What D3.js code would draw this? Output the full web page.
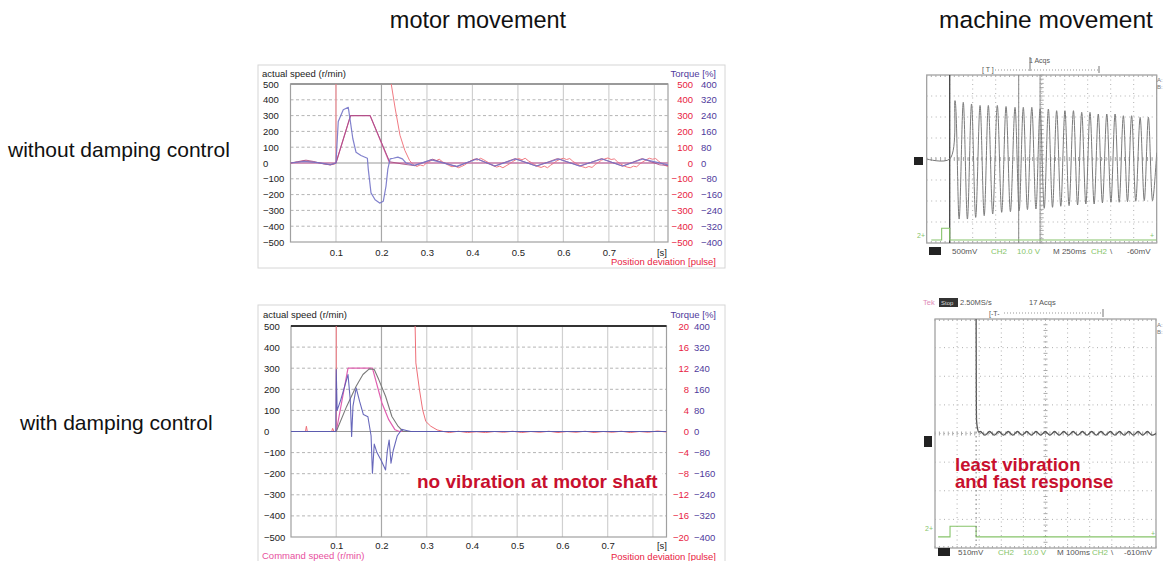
<!DOCTYPE html>
<html><head><meta charset="utf-8">
<script src="https://cdn.jsdelivr.net/npm/d3@7"></script>
<style>
body{margin:0;background:#fff}
svg{display:block;font-family:"Liberation Sans",Arial,Helvetica,sans-serif}
</style></head>
<body><svg id="c" width="1167" height="561"></svg>
<script>
// ---------------- DATA ----------------
const titles = ["motor movement", "machine movement"];
const rowLabels = ["without damping control", "with damping control"];
const speedTicks = [500,400,300,200,100,0,-100,-200,-300,-400,-500];
const torqueTicks = [400,320,240,160,80,0,-80,-160,-240,-320,-400];
const devTicksTop = [500,400,300,200,100,0,-100,-200,-300,-400,-500];
const devTicksBot = [20,16,12,8,4,0,-4,-8,-12,-16,-20];
const timeTicks = [0.1,0.2,0.3,0.4,0.5,0.6,0.7];
const timeGrid = [0.1,0.2,0.3,0.4,0.5,0.6,0.7,0.8];
const timeDomain = [0, 0.83];

// top chart (without damping) : [time s, value]
const cmdTop = [[0,0],[0.1,0],[0.132,300],[0.175,300],[0.218,0],[0.83,0]];
const actTop = [[0,0],[0.015,8],[0.034,18],[0.05,10],[0.07,-4],[0.087,-12],[0.1,0],[0.132,300],[0.175,300],[0.218,8],[0.245,-6],[0.273,-17],[0.312,24],[0.366,-24],[0.409,28],[0.448,-20],[0.494,28],[0.541,-20],[0.587,28],[0.637,-20],[0.684,28],[0.73,-20],[0.773,28],[0.812,-12],[0.83,-16]];
const torqueTop = [[0,0],[0.03,8],[0.06,2],[0.088,-8],[0.1,0],[0.105,210],[0.116,270],[0.127,282],[0.13,236],[0.137,124],[0.144,55],[0.155,38],[0.169,24],[0.171,-31],[0.177,-151],[0.186,-186],[0.196,-203],[0.204,-194],[0.21,-117],[0.214,-31],[0.219,21],[0.226,24],[0.236,30],[0.246,21],[0.254,0],[0.272,-12],[0.31,16],[0.365,-17],[0.41,20],[0.45,-15],[0.495,20],[0.54,-15],[0.59,20],[0.635,-15],[0.685,20],[0.73,-15],[0.775,20],[0.83,-10]];
const devTop = [[0,0],[0.015,6],[0.03,14],[0.045,8],[0.06,2],[0.075,-6],[0.088,-12],[0.098,-6],[0.1,0],[0.1,700],[0.2215,700],[0.2215,500],[0.23,348],[0.2407,176],[0.2514,80],[0.262,15],[0.27,-10],[0.278,-22],[0.285,-12],[0.292,-18],[0.3,2],[0.307,12],[0.314,20],[0.32,14],[0.327,24],[0.334,8],[0.341,-4],[0.348,-15],[0.355,-24],[0.362,-18],[0.369,-30],[0.376,-22],[0.383,-12],[0.39,2],[0.397,14],[0.404,24],[0.411,18],[0.418,30],[0.425,20],[0.432,8],[0.439,-4],[0.446,-16],[0.453,-26],[0.46,-20],[0.467,-30],[0.474,-18],[0.481,-6],[0.488,8],[0.495,20],[0.502,28],[0.509,20],[0.516,30],[0.523,14],[0.53,2],[0.537,-10],[0.544,-22],[0.551,-28],[0.558,-20],[0.565,-30],[0.572,-14],[0.579,0],[0.586,14],[0.593,24],[0.6,30],[0.607,22],[0.614,28],[0.621,10],[0.628,-2],[0.635,-14],[0.642,-24],[0.649,-30],[0.656,-22],[0.663,-28],[0.67,-10],[0.677,4],[0.684,18],[0.691,26],[0.698,32],[0.705,22],[0.712,26],[0.719,8],[0.726,-6],[0.733,-18],[0.74,-26],[0.747,-30],[0.754,-20],[0.761,-24],[0.768,-6],[0.775,8],[0.782,20],[0.789,30],[0.796,24],[0.803,28],[0.81,10],[0.817,-4],[0.824,-16],[0.83,-22]];

// bottom chart (with damping)
const cmdBot = [[0,0],[0.1,0],[0.126,300],[0.18,300],[0.201,135],[0.216,56],[0.23,8],[0.24,0],[0.83,0]];
const actBot = [[0,0],[0.1,0],[0.123,119],[0.144,214],[0.159,270],[0.173,297],[0.184,294],[0.194,246],[0.209,167],[0.223,71],[0.237,24],[0.248,0],[0.83,0]];
const torqueBot = [[0,0],[0.099,0],[0.1,235],[0.102,80],[0.11,120],[0.126,216],[0.131,120],[0.134,-19],[0.137,96],[0.144,165],[0.152,112],[0.16,64],[0.17,56],[0.177,-16],[0.18,-158],[0.184,-48],[0.19,-80],[0.2,-112],[0.209,-146],[0.213,-72],[0.217,-32],[0.221,-120],[0.226,-72],[0.235,-16],[0.245,8],[0.255,4],[0.265,0],[0.83,0]];
const devBot = [[0,0],[0.032,0],[0.034,1],[0.036,0],[0.09,0],[0.092,0.6],[0.095,0],[0.1,0],[0.1,30],[0.272,30],[0.276,13],[0.284,7.9],[0.291,4.1],[0.298,1.9],[0.309,1],[0.323,0.3],[0.337,0],[0.35,-0.2],[0.37,0.05],[0.39,-0.2],[0.41,-0.05],[0.43,-0.2],[0.45,0],[0.47,-0.15],[0.49,0.05],[0.51,-0.2],[0.53,0],[0.55,-0.15],[0.57,0.05],[0.59,-0.2],[0.61,0],[0.63,-0.15],[0.65,0.05],[0.67,-0.2],[0.69,0],[0.71,-0.15],[0.73,0.05],[0.75,-0.2],[0.77,0],[0.79,-0.15],[0.81,0.1],[0.83,-0.1]];

// oscilloscope, top (without damping) : divisions
const scopeTopCrestX = [1.23,1.59,1.95,2.32,2.68,3.07,3.45,3.84,4.20,4.57,4.93,5.29,5.65,6.01,6.38,6.74,7.10,7.46,7.83,8.19,8.55,8.91,9.28,9.64];
const scopeTopCrestY = [2.78,2.7,2.62,2.55,2.55,2.55,2.5,2.46,2.46,2.46,2.38,2.38,2.3,2.3,2.3,2.22,2.22,2.14,2.14,2.14,2.06,2.06,1.98,1.98];
const scopeTopTroughX = [1.41,1.77,2.13,2.50,2.87,3.26,3.64,4.02,4.38,4.75,5.11,5.47,5.83,6.19,6.56,6.92,7.28,7.64,8.01,8.37,8.73,9.09,9.46,9.82];
const scopeTopTroughY = [-2.86,-2.86,-2.78,-2.7,-2.62,-2.54,-2.51,-2.46,-2.41,-2.38,-2.35,-2.3,-2.25,-2.22,-2.19,-2.14,-2.14,-2.09,-2.06,-2.06,-2.03,-2.01,-1.98,-1.98];
const scopeTopCh2 = [[0.2,-3.86],[0.65,-3.3],[1.0,-3.86],[10,-3.86]];
const scopeTopCursors = [1.0, 4.0, 4.93];

// oscilloscope, bottom (with damping)
const scopeBotDrop = [[1.86,4.4],[1.87,1.2],[1.88,0.45],[1.93,0.15],[1.98,0.05]];
const scopeBotCrestX = [2.05,2.47,2.89,3.31,3.73,4.15,4.57,4.99,5.41,5.83,6.25,6.67,7.09,7.51,7.93,8.35,8.77,9.19,9.61];
const scopeBotTroughX = [2.26,2.68,3.10,3.52,3.94,4.36,4.78,5.20,5.62,6.04,6.46,6.88,7.30,7.72,8.14,8.56,8.98,9.40,9.82];
const scopeBotRipple = [0.07,-0.06];
const scopeBotCh2 = [[0.14,-3.61],[0.68,-3.24],[1.86,-3.61],[10,-3.61]];
const scopeBotTrigger = 1.86;

// ---------------- DRAW ----------------
const svg = d3.select("#c");
const TF = 9.5;

function styleAxis(sel, color, anchor) {
  sel.select(".domain").remove();
  sel.selectAll("line").remove();
  sel.attr("font-family", null).attr("font-size", null);
  sel.selectAll("text").attr("fill", color).attr("font-size", TF).attr("text-anchor", anchor);
}

function drawMotor(c) {
  const g = svg.append("g");
  g.append("rect").attr("x", c.box[0]).attr("y", c.box[1]).attr("width", c.box[2]-c.box[0]).attr("height", c.box[3]-c.box[1])
    .attr("fill","none").attr("stroke","#d6d6d6");
  const p = c.plot;
  const x = d3.scaleLinear().domain(timeDomain).range([p.l, p.r]);
  const y = d3.scaleLinear().domain([-500,500]).range([p.b, p.t]);
  const yT = d3.scaleLinear().domain([-400,400]).range([p.b, p.t]);
  const yD = d3.scaleLinear().domain([c.devTicks[c.devTicks.length-1], c.devTicks[0]]).range([p.b, p.t]);

  g.selectAll(null).data(speedTicks.filter(v => v !== 0 && Math.abs(v) !== 500)).join("line")
    .attr("x1", p.l).attr("x2", p.r).attr("y1", d => y(d)).attr("y2", d => y(d))
    .attr("stroke", "#b4b4b4").attr("stroke-dasharray", "3,2.5");
  g.selectAll(null).data(timeGrid).join("line")
    .attr("x1", d => x(d)).attr("x2", d => x(d)).attr("y1", p.t).attr("y2", p.b)
    .attr("stroke", d => d === 0.2 ? "#a8a8a8" : "#d0d0d0").attr("stroke-width", 1.2);
  g.append("line").attr("x1", p.l).attr("x2", p.r).attr("y1", y(0)).attr("y2", y(0)).attr("stroke", "#999");
  g.append("rect").attr("x", p.l).attr("y", p.t).attr("width", p.r-p.l).attr("height", p.b-p.t)
    .attr("fill", "none").attr("stroke", "#a0a0a0").attr("stroke-width", 1.2);
  g.append("line").attr("x1", p.l).attr("x2", p.r).attr("y1", p.t).attr("y2", p.t)
    .attr("stroke", c.topBorder).attr("stroke-width", 2);

  const cid = "clip" + c.id;
  svg.append("clipPath").attr("id", cid).append("rect")
    .attr("x", p.l).attr("y", p.t).attr("width", p.r-p.l).attr("height", p.b-p.t);
  const lg = g.append("g").attr("clip-path", `url(#${cid})`).attr("fill", "none");
  const mk = (sc) => d3.line().x(d => x(d[0])).y(d => sc(d[1]));
  c.series.forEach(s => {
    const sc = s.axis === "torque" ? yT : s.axis === "dev" ? yD : y;
    lg.append("path").datum(s.data).attr("d", mk(sc)).attr("stroke", s.color)
      .attr("stroke-width", s.w || 1.1).attr("stroke-opacity", s.op || 1).attr("stroke-linejoin","round");
  });

  const la = g.append("g").attr("transform", `translate(${c.leftX},0)`)
    .call(d3.axisRight(y).tickValues(speedTicks).tickFormat(d3.format("d")).tickSize(0).tickPadding(0));
  styleAxis(la, "#222", "start");
  const ra = g.append("g").attr("transform", `translate(${c.redX},0)`)
    .call(d3.axisLeft(yD).tickValues(c.devTicks).tickFormat(d3.format("d")).tickSize(0).tickPadding(0));
  styleAxis(ra, "#e8223f", "end");
  const pa = g.append("g").attr("transform", `translate(${c.purX},0)`)
    .call(d3.axisRight(yT).tickValues(torqueTicks).tickFormat(d3.format("d")).tickSize(0).tickPadding(0));
  styleAxis(pa, "#4f3a9c", "start");
  const xa = g.append("g").attr("transform", `translate(0,${c.xTickY})`)
    .call(d3.axisBottom(x).tickValues(timeTicks).tickFormat(d3.format(".1f")).tickSize(0).tickPadding(0));
  styleAxis(xa, "#222", "middle");
  xa.selectAll("text").attr("y", 0).attr("dy", 0);

  g.append("text").attr("x", c.leftX - 1).attr("y", c.labelY).attr("font-size", TF).attr("fill", "#222").text("actual speed (r/min)");
  g.append("text").attr("x", 716).attr("y", c.labelY).attr("font-size", TF).attr("fill", "#4f3a9c").attr("text-anchor", "end").text("Torque [%]");
  g.append("text").attr("x", 662).attr("y", c.xTickY).attr("font-size", TF).attr("fill", "#222").attr("text-anchor", "middle").text("[s]");
  g.append("text").attr("x", 716).attr("y", c.devLabelY).attr("font-size", TF).attr("fill", "#e8223f").attr("text-anchor", "end").text("Position deviation [pulse]");
  if (c.cmdLabel) g.append("text").attr("x", 262).attr("y", c.cmdLabelY).attr("font-size", TF).attr("fill", "#e8509e").text("Command speed (r/min)");
  return {g, x, y};
}

const chartTop = drawMotor({
  id: "T", box: [258, 65, 725, 268], plot: {l: 290.5, r: 668, t: 84, b: 242}, topBorder: "#9a9a9a",
  devTicks: devTicksTop, leftX: 263, redX: 693, purX: 701, xTickY: 256, labelY: 77, devLabelY: 265,
  series: [
    {data: devTop, axis: "dev", color: "#f07a82", w: 1},
    {data: cmdTop, axis: "speed", color: "#d866a8", w: 1.2},
    {data: actTop, axis: "speed", color: "#a84a80", w: 1, op: 0.85},
    {data: torqueTop, axis: "torque", color: "#7474c8", w: 1.2, op: 0.9}
  ]
});
const chartBot = drawMotor({
  id: "B", box: [258, 305, 725, 575], plot: {l: 291, r: 666.5, t: 326, b: 537}, topBorder: "#333",
  devTicks: devTicksBot, leftX: 264, redX: 689, purX: 694, xTickY: 549, labelY: 318, devLabelY: 560,
  cmdLabel: true, cmdLabelY: 559,
  series: [
    {data: devBot, axis: "dev", color: "#ee6f78", w: 1},
    {data: cmdBot, axis: "speed", color: "#e060b0", w: 1.2},
    {data: actBot, axis: "speed", color: "#7a7a7a", w: 1.1},
    {data: torqueBot, axis: "torque", color: "#5858b4", w: 1.1, op: 0.9}
  ]
});

const nv = chartBot.g.append("g");
const nvText = nv.append("text").attr("x", 417).attr("y", 488).attr("font-size", 19).attr("font-weight", "bold")
  .attr("fill", "#c8102e").text("no vibration at motor shaft");
const bb = nvText.node().getBBox();
nv.insert("rect", "text").attr("x", bb.x - 6).attr("y", bb.y - 1).attr("width", bb.width + 10).attr("height", bb.height + 2).attr("fill", "#fff");

// ---------------- SCOPES ----------------
function drawScope(c) {
  const g = svg.append("g");
  const xs = d3.scaleLinear().domain([0, 10]).range([c.f[0], c.f[2]]);
  const ys = d3.scaleLinear().domain([-4, 4]).range([c.f[3], c.f[1]]);
  g.append("rect").attr("x", c.f[0]).attr("y", c.f[1]).attr("width", c.f[2]-c.f[0]).attr("height", c.f[3]-c.f[1])
    .attr("fill", "#fff").attr("stroke", "#9a9a9a").attr("stroke-width", 1.2);
  g.selectAll(null).data(d3.range(1, 10)).join("line")
    .attr("x1", d => xs(d)).attr("x2", d => xs(d)).attr("y1", c.f[1]).attr("y2", c.f[3])
    .attr("stroke", "#b0b0b0").attr("stroke-dasharray", "1,3.5");
  g.selectAll(null).data(d3.range(-3, 4)).join("line")
    .attr("x1", c.f[0]).attr("x2", c.f[2]).attr("y1", d => ys(d)).attr("y2", d => ys(d))
    .attr("stroke", "#b0b0b0").attr("stroke-dasharray", "1,3.5");
  g.selectAll(null).data(d3.range(0, 10.01, 0.2)).join("line")
    .attr("x1", d => xs(d)).attr("x2", d => xs(d)).attr("y1", ys(0) - 2).attr("y2", ys(0) + 2).attr("stroke", "#aaa");
  g.selectAll(null).data(d3.range(-4, 4.01, 0.2)).join("line")
    .attr("x1", xs(5) - 2).attr("x2", xs(5) + 2).attr("y1", d => ys(d)).attr("y2", d => ys(d)).attr("stroke", "#aaa");
  g.selectAll(null).data(d3.range(0, 10.01, 0.2)).join("line")
    .attr("x1", d => xs(d)).attr("x2", d => xs(d)).attr("y1", c.f[1]).attr("y2", c.f[1] + 2).attr("stroke", "#aaa");
  g.selectAll(null).data(d3.range(0, 10.01, 0.2)).join("line")
    .attr("x1", d => xs(d)).attr("x2", d => xs(d)).attr("y1", c.f[3] - 2).attr("y2", c.f[3]).attr("stroke", "#aaa");
  const cid = "sclip" + c.id;
  svg.append("clipPath").attr("id", cid).append("rect")
    .attr("x", c.f[0]).attr("y", c.f[1]).attr("width", c.f[2]-c.f[0]).attr("height", c.f[3]-c.f[1]);
  const tg = g.append("g").attr("clip-path", `url(#${cid})`).attr("fill", "none");
  const t = (x, y, s, col, sz) => g.append("text").attr("x", x).attr("y", y).attr("font-size", sz || 7.5).attr("fill", col || "#555").text(s);
  return {g, xs, ys, tg, t};
}

const s1 = drawScope({id: "1", f: [926.7, 75, 1156.7, 243]});
s1.tg.selectAll(null).data(scopeTopCursors).join("line")
  .attr("x1", d => s1.xs(d)).attr("x2", d => s1.xs(d)).attr("y1", 75).attr("y2", 243)
  .attr("stroke", (d, i) => i === 0 ? "#444" : "#888").attr("stroke-width", (d, i) => i === 0 ? 1.3 : 1);
const wavePts = [[0, 0], [1.0, 0]];
scopeTopCrestX.forEach((cx, i) => { wavePts.push([cx, scopeTopCrestY[i]]); wavePts.push([scopeTopTroughX[i], scopeTopTroughY[i]]); });
wavePts.push([10, 0.3]);
s1.tg.append("path").datum(wavePts)
  .attr("d", d3.line().x(d => s1.xs(d[0])).y(d => s1.ys(d[1])).curve(d3.curveCatmullRom))
  .attr("stroke", "#7a7a7a").attr("stroke-width", 1);
s1.tg.append("path").datum(scopeTopCh2)
  .attr("d", d3.line().x(d => s1.xs(d[0])).y(d => s1.ys(d[1])).curve(d3.curveStepAfter))
  .attr("stroke", "#86c46a").attr("stroke-width", 1.1);
s1.g.append("rect").attr("x", 914).attr("y", 157).attr("width", 9).attr("height", 8).attr("fill", "#222");
s1.t(917, 238, "2+", "#86c46a", 7);
s1.t(1150, 238, "+", "#86c46a", 7);
s1.t(1157, 82, "A:", "#777", 6); s1.t(1157, 89, "B:", "#777", 6);
s1.t(1029, 63, "1 Acqs", "#555", 7);
s1.g.append("line").attr("x1", 995).attr("x2", 1099).attr("y1", 70).attr("y2", 70).attr("stroke", "#999").attr("stroke-dasharray", "1,2");
s1.t(982, 72, "[ T ]", "#555", 7);
s1.g.append("line").attr("x1", 1030).attr("x2", 1030).attr("y1", 57).attr("y2", 71).attr("stroke", "#777");
s1.g.append("line").attr("x1", 1099).attr("x2", 1099).attr("y1", 66).attr("y2", 73).attr("stroke", "#777");
s1.g.append("rect").attr("x", 929).attr("y", 247).attr("width", 12).attr("height", 8).attr("fill", "#222");
s1.t(952, 254, "500mV", "#555", 8);
s1.t(991, 254, "CH2", "#86c46a", 8);
s1.t(1017, 254, "10.0 V", "#86c46a", 8);
s1.t(1053, 254, "M 250ms", "#555", 8);
s1.t(1091, 254, "CH2", "#86c46a", 8);
s1.t(1110, 254, "\\", "#555", 8);
s1.t(1127, 254, "-60mV", "#555", 8);

const s2 = drawScope({id: "2", f: [935, 319, 1156, 548]});
s2.g.append("line").attr("x1", s2.xs(scopeBotTrigger)).attr("x2", s2.xs(scopeBotTrigger)).attr("y1", 319).attr("y2", 548)
  .attr("stroke", "#777").attr("stroke-dasharray", "1.5,3");
const ripPts = scopeBotDrop.slice();
scopeBotCrestX.forEach((cx, i) => { ripPts.push([cx, scopeBotRipple[0]]); ripPts.push([scopeBotTroughX[i], scopeBotRipple[1]]); });
ripPts.push([10, 0]);
s2.tg.append("path").datum(ripPts)
  .attr("d", d3.line().x(d => s2.xs(d[0])).y(d => s2.ys(d[1])).curve(d3.curveMonotoneX))
  .attr("stroke", "#555").attr("stroke-width", 1.3);
s2.tg.append("path").datum(scopeBotCh2)
  .attr("d", d3.line().x(d => s2.xs(d[0])).y(d => s2.ys(d[1])).curve(d3.curveStepAfter))
  .attr("stroke", "#86c46a").attr("stroke-width", 1.1);
s2.g.append("rect").attr("x", 924).attr("y", 436).attr("width", 8).attr("height", 11).attr("fill", "#222");
s2.t(925, 531, "2+", "#86c46a", 7);
s2.t(1151, 536, "+", "#86c46a", 7);
s2.t(1157, 327, "A:", "#777", 6); s2.t(1157, 334, "B:", "#777", 6);
s2.t(923, 305, "Tek", "#e08ab8", 7.5);
s2.g.append("rect").attr("x", 939).attr("y", 298).attr("width", 19).attr("height", 9).attr("fill", "#333");
s2.t(941, 305, "Stop", "#ddd", 6);
s2.t(960, 305, "2.50MS/s", "#555", 7.5);
s2.t(1029, 305, "17 Acqs", "#555", 7.5);
s2.t(989, 316, "[-T-", "#555", 7);
s2.g.append("line").attr("x1", 1004).attr("x2", 1103).attr("y1", 313).attr("y2", 313).attr("stroke", "#999").attr("stroke-dasharray", "1,2");
s2.g.append("line").attr("x1", 1103).attr("x2", 1103).attr("y1", 309).attr("y2", 317).attr("stroke", "#777");
s2.g.append("rect").attr("x", 938).attr("y", 548).attr("width", 12).attr("height", 8).attr("fill", "#222");
s2.t(958, 555, "510mV", "#555", 8);
s2.t(998, 555, "CH2", "#86c46a", 8);
s2.t(1023, 555, "10.0 V", "#86c46a", 8);
s2.t(1057, 555, "M 100ms", "#555", 8);
s2.t(1092, 555, "CH2", "#86c46a", 8);
s2.t(1111, 555, "\\", "#555", 8);
s2.t(1124, 555, "-610mV", "#555", 8);

const lv = svg.append("g").attr("font-size", 18.5).attr("font-weight", "bold").attr("fill", "#c8102e");
lv.append("text").attr("x", 955).attr("y", 471).text("least vibration");
lv.append("text").attr("x", 955).attr("y", 488).text("and fast response");

svg.append("text").attr("x", 478).attr("y", 28).attr("text-anchor", "middle").attr("font-size", 23.5).attr("fill", "#111").text(titles[0]);
svg.append("text").attr("x", 1046).attr("y", 28).attr("text-anchor", "middle").attr("font-size", 24.5).attr("fill", "#111").text(titles[1]);
svg.append("text").attr("x", 8).attr("y", 157).attr("font-size", 21).attr("fill", "#111").text(rowLabels[0]);
svg.append("text").attr("x", 20).attr("y", 430).attr("font-size", 21).attr("fill", "#111").text(rowLabels[1]);
</script></body></html>
